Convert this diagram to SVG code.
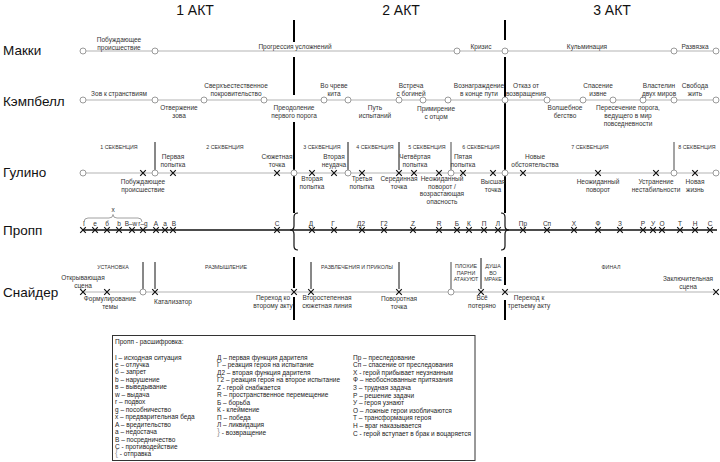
<svg xmlns="http://www.w3.org/2000/svg" width="720" height="462" viewBox="0 0 720 462">
<style>
text{font-family:"Liberation Sans",Arial,sans-serif;fill:#333}
.h{font-size:14px;fill:#111;text-anchor:middle}
.r{font-size:13.5px;fill:#111}
.l{font-size:6.5px;text-anchor:middle}
.s{font-size:5.3px;text-anchor:middle}
.g{font-size:6.5px;fill:#222}
.tl{stroke:#b4b4b4;stroke-width:1.2;fill:none}
.pl{stroke:#111;stroke-width:1.4;fill:none}
.act{stroke:#000;stroke-width:2;fill:none}
.dv{stroke:#111;stroke-width:1;fill:none}
.gd{stroke:#9a9a9a;stroke-width:1.8;fill:none}
.c{fill:#fff;stroke:#9a9a9a;stroke-width:1}
.br{stroke:#111;stroke-width:1.2;fill:none}
.brg{stroke:#888;stroke-width:0.8;fill:none}
.lb{font-size:9px;fill:#999}
</style>
<defs>
<path id="xm" d="M-2.8,-2.8L2.8,2.8M2.8,-2.8L-2.8,2.8" stroke="#111" stroke-width="1.2" fill="none"/>
</defs>
<rect width="720" height="462" fill="#fff"/>

<g id="headers">
<text class="h" x="195" y="15">1 АКТ</text>
<text class="h" x="401" y="15">2 АКТ</text>
<text class="h" x="612" y="15">3 АКТ</text>
<text class="r" x="3" y="55">Макки</text>
<text class="r" x="3" y="106">Кэмпбелл</text>
<text class="r" x="3" y="177">Гулино</text>
<text class="r" x="3" y="235">Пропп</text>
<text class="r" x="3" y="297">Снайдер</text>
</g>

<g id="connectors">
<line class="tl" x1="83" y1="51" x2="716" y2="51"/>
<line class="tl" x1="83" y1="100" x2="716" y2="100"/>
<line class="tl" x1="83" y1="173" x2="716" y2="173"/>
<line class="pl" x1="83" y1="230" x2="717" y2="230"/>
<line class="tl" x1="83" y1="292" x2="716" y2="292"/>
<path class="act" d="M294,20V42M294,57V95M294,122V170M294,176V213M294,257V288M294,297V320"/>
<path class="act" d="M505,20V40M505,57V97M505,103V170M505,176V213M505,257V285M505,300V320"/>
<path class="br" d="M298,213Q294,213 294,217V226Q294,230 290,230Q294,230 294,234V246Q294,250 298,250"/>
<path class="br" d="M501,213Q505,213 505,217V226Q505,230 509,230Q505,230 505,234V246Q505,250 501,250"/>
<path class="dv" d="M155,142V170M348,142V170M399,142V170"/>
<path class="gd" d="M451,142V170M674,142V170"/>
<path class="dv" d="M143,262V289M155,262V289M311,262V289M399,262V289M481,258V289"/>
<path class="gd" d="M451,262V289"/>
<path class="brg" d="M84,222Q84,218 88,218H109Q113,218 113,214.5Q113,218 117,218H138Q142,218 142,222"/>
</g>

<g id="makki">
<g id="mk-a"><circle class="c" cx="83" cy="51" r="3"/><text class="l" x="119" y="42">Побуждающее<tspan x="119" dy="7.5">происшествие</tspan></text></g>
<g id="mk-b"><circle class="c" cx="155" cy="51" r="3"/><text class="l" x="295" y="49">Прогрессия  усложнений</text></g>
<g id="mk-c"><circle class="c" cx="457" cy="51" r="3"/><text class="l" x="481" y="49">Кризис</text></g>
<g id="mk-d"><circle class="c" cx="505" cy="51" r="3"/><text class="l" x="587" y="49">Кульминация</text></g>
<g id="mk-e"><circle class="c" cx="674" cy="51" r="3"/><text class="l" x="695" y="49">Развязка</text></g>
<g id="mk-f"><circle class="c" cx="716" cy="51" r="3"/></g>
</g>

<g id="campbell">
<g id="cb-1"><circle class="c" cx="83" cy="100" r="3"/><text class="l" x="119" y="95.5">Зов к странствиям</text></g>
<g id="cb-2"><circle class="c" cx="155" cy="100" r="3"/><text class="l" x="179" y="110">Отвержение<tspan x="179" dy="7.8">зова</tspan></text></g>
<g id="cb-3"><circle class="c" cx="204" cy="100" r="3"/><text class="l" x="236" y="88">Сверхъестественное<tspan x="236" dy="7.8">покровительство</tspan></text></g>
<g id="cb-4"><circle class="c" cx="264" cy="100" r="3"/><text class="l" x="294" y="110">Преодоление<tspan x="294" dy="7.8">первого порога</tspan></text></g>
<g id="cb-5"><circle class="c" cx="324" cy="100" r="3"/><text class="l" x="334" y="88">Во чреве<tspan x="334" dy="7.8">кита</tspan></text></g>
<g id="cb-6"><circle class="c" cx="348" cy="100" r="3"/><text class="l" x="375" y="110">Путь<tspan x="375" dy="7.8">испытаний</tspan></text></g>
<g id="cb-7"><circle class="c" cx="399" cy="100" r="3"/><text class="l" x="411" y="88">Встреча<tspan x="411" dy="7.8">с богиней</tspan></text></g>
<g id="cb-8"><circle class="c" cx="423" cy="100" r="3"/><text class="l" x="436" y="111">Примирение<tspan x="436" dy="7.8">с отцом</tspan></text></g>
<g id="cb-9"><circle class="c" cx="448" cy="100" r="3"/><text class="l" x="479" y="88">Вознаграждение<tspan x="479" dy="7.8">в конце пути</tspan></text></g>
<g id="cb-10"><circle class="c" cx="505" cy="100" r="3"/><text class="l" x="526" y="88">Отказ от<tspan x="526" dy="7.8">возвращения</tspan></text></g>
<g id="cb-11"><circle class="c" cx="547" cy="100" r="3"/><text class="l" x="565" y="110">Волшебное<tspan x="565" dy="7.8">бегство</tspan></text></g>
<g id="cb-12"><circle class="c" cx="583" cy="100" r="3"/><text class="l" x="598" y="88">Спасение<tspan x="598" dy="7.8">извне</tspan></text></g>
<g id="cb-13"><circle class="c" cx="613" cy="100" r="3"/><text class="l" x="628" y="110">Пересечение порога,<tspan x="628" dy="7.8">ведущего в мир</tspan><tspan x="628" dy="7.8">повседневности</tspan></text></g>
<g id="cb-14"><circle class="c" cx="643" cy="100" r="3"/><text class="l" x="659" y="88">Властелин<tspan x="659" dy="7.8">двух миров</tspan></text></g>
<g id="cb-15"><circle class="c" cx="674" cy="100" r="3"/><text class="l" x="695" y="88">Свобода<tspan x="695" dy="7.8">жить</tspan></text></g>
<g id="cb-16"><circle class="c" cx="716" cy="100" r="3"/></g>
</g>

<g id="gulino">
<g id="gu-seq">
<text class="s" x="119" y="149">1 СЕКВЕНЦИЯ</text>
<text class="s" x="225" y="149">2 СЕКВЕНЦИЯ</text>
<text class="s" x="322" y="149">3 СЕКВЕНЦИЯ</text>
<text class="s" x="375" y="149">4 СЕКВЕНЦИЯ</text>
<text class="s" x="427" y="149">5 СЕКВЕНЦИЯ</text>
<text class="s" x="481" y="149">6 СЕКВЕНЦИЯ</text>
<text class="s" x="590" y="149">7 СЕКВЕНЦИЯ</text>
<text class="s" x="697" y="149">8 СЕКВЕНЦИЯ</text>
</g>
<g id="gu-c1"><circle class="c" cx="83" cy="173" r="3"/></g>
<g id="gu-x1"><use href="#xm" x="143" y="173"/><text class="l" x="143" y="184">Побуждающее<tspan x="143" dy="7.8">происшествие</tspan></text></g>
<g id="gu-c2"><circle class="c" cx="155" cy="173" r="3"/></g>
<g id="gu-x2"><use href="#xm" x="173" y="173"/><text class="l" x="173" y="159">Первая<tspan x="173" dy="7.5">попытка</tspan></text></g>
<g id="gu-x3"><use href="#xm" x="277" y="173"/><text class="l" x="277" y="159">Сюжетная<tspan x="277" dy="7.5">точка</tspan></text></g>
<g id="gu-c3"><circle class="c" cx="294" cy="173" r="3"/></g>
<g id="gu-x4"><use href="#xm" x="312" y="173"/><text class="l" x="312" y="181">Вторая<tspan x="312" dy="7.8">попытка</tspan></text></g>
<g id="gu-x5"><use href="#xm" x="334" y="173"/><text class="l" x="334" y="159">Вторая<tspan x="334" dy="7.5">неудача</tspan></text></g>
<g id="gu-c4"><circle class="c" cx="348" cy="173" r="3"/></g>
<g id="gu-x6"><use href="#xm" x="362" y="173"/><text class="l" x="362" y="181">Третья<tspan x="362" dy="7.8">попытка</tspan></text></g>
<g id="gu-x7"><use href="#xm" x="399" y="173"/><text class="l" x="399" y="181">Серединная<tspan x="399" dy="7.8">точка</tspan></text></g>
<g id="gu-x8"><use href="#xm" x="414" y="173"/><text class="l" x="415" y="159">Четвёртая<tspan x="415" dy="7.5">попытка</tspan></text></g>
<g id="gu-x9"><use href="#xm" x="439" y="173"/><text class="l" x="442" y="181">Неожиданный<tspan x="442" dy="7.7">поворот /</tspan><tspan x="442" dy="7.7">возрастающая</tspan><tspan x="442" dy="7.7">опасность</tspan></text></g>
<g id="gu-c5"><circle class="c" cx="451" cy="173" r="3"/></g>
<g id="gu-x10"><use href="#xm" x="463" y="173"/><text class="l" x="463" y="159">Пятая<tspan x="463" dy="7.5">попытка</tspan></text></g>
<g id="gu-x11"><use href="#xm" x="493" y="173"/><text class="l" x="493" y="184">Высшая<tspan x="493" dy="7.8">точка</tspan></text></g>
<g id="gu-c6"><circle class="c" cx="505" cy="173" r="3"/></g>
<g id="gu-x12"><use href="#xm" x="523" y="173"/><text class="l" x="535" y="159">Новые<tspan x="535" dy="7.5">обстоятельства</tspan></text></g>
<g id="gu-x13"><use href="#xm" x="598" y="173"/><text class="l" x="598" y="184">Неожиданный<tspan x="598" dy="7.8">поворот</tspan></text></g>
<g id="gu-x14"><use href="#xm" x="656" y="173"/><text class="l" x="656" y="184">Устранение<tspan x="656" dy="7.8">нестабильности</tspan></text></g>
<g id="gu-c7"><circle class="c" cx="674" cy="173" r="3"/></g>
<g id="gu-x15"><use href="#xm" x="695" y="173"/><text class="l" x="695" y="184">Новая<tspan x="695" dy="7.8">жизнь</tspan></text></g>
<g id="gu-c8"><circle class="c" cx="716" cy="173" r="3"/></g>
</g>

<g id="propp">
<text class="l" x="113" y="212">x</text>
<g id="pr-I"><use href="#xm" x="83" y="230"/><text class="l" x="84" y="226">I</text></g>
<g id="pr-e"><use href="#xm" x="95" y="230"/><text class="l" x="95" y="226">e</text></g>
<g id="pr-b1"><use href="#xm" x="107" y="230"/><text class="l" x="107" y="226">б</text></g>
<g id="pr-b2"><use href="#xm" x="119" y="230"/><text class="l" x="119" y="226">b</text></g>
<g id="pr-Bw"><use href="#xm" x="132" y="230"/><text class="l" x="131" y="226">B–w</text></g>
<g id="pr-rg"><use href="#xm" x="143" y="230"/><text class="l" x="143" y="226">r–g</text></g>
<g id="pr-A"><use href="#xm" x="156" y="230"/><text class="l" x="156" y="226">A</text></g>
<g id="pr-a"><use href="#xm" x="165" y="230"/><text class="l" x="165" y="226">a</text></g>
<g id="pr-B"><use href="#xm" x="173" y="230"/><text class="l" x="174" y="226">B</text></g>
<g id="pr-C"><use href="#xm" x="277" y="230"/><text class="l" x="277" y="226">С</text></g>
<g id="pr-D"><use href="#xm" x="312" y="230"/><text class="l" x="311" y="226">Д</text></g>
<g id="pr-G"><use href="#xm" x="334" y="230"/><text class="l" x="333" y="226">Г</text></g>
<g id="pr-D2"><use href="#xm" x="362" y="230"/><text class="l" x="361" y="226">Д2</text></g>
<g id="pr-G2"><use href="#xm" x="384" y="230"/><text class="l" x="384" y="226">Г2</text></g>
<g id="pr-Z"><use href="#xm" x="413" y="230"/><text class="l" x="413" y="226">Z</text></g>
<g id="pr-R"><use href="#xm" x="439" y="230"/><text class="l" x="439" y="226">R</text></g>
<g id="pr-Bb"><use href="#xm" x="457" y="230"/><text class="l" x="457" y="226">Б</text></g>
<g id="pr-K"><use href="#xm" x="469" y="230"/><text class="l" x="469" y="226">К</text></g>
<g id="pr-P"><use href="#xm" x="484" y="230"/><text class="l" x="484" y="226">П</text></g>
<g id="pr-L"><use href="#xm" x="498" y="230"/><text class="l" x="498" y="226">Л</text></g>
<g id="pr-Pr"><use href="#xm" x="523" y="230"/><text class="l" x="523" y="226">Пр</text></g>
<g id="pr-Sp"><use href="#xm" x="547" y="230"/><text class="l" x="547" y="226">Сп</text></g>
<g id="pr-X"><use href="#xm" x="574" y="230"/><text class="l" x="574" y="226">Х</text></g>
<g id="pr-F"><use href="#xm" x="598" y="230"/><text class="l" x="598" y="226">Ф</text></g>
<g id="pr-Z3"><use href="#xm" x="620" y="230"/><text class="l" x="620" y="226">З</text></g>
<g id="pr-Rr"><use href="#xm" x="643" y="230"/><text class="l" x="643" y="226">Р</text></g>
<g id="pr-U"><use href="#xm" x="653" y="230"/><text class="l" x="653" y="226">У</text></g>
<g id="pr-O"><use href="#xm" x="662" y="230"/><text class="l" x="662" y="226">О</text></g>
<g id="pr-T"><use href="#xm" x="680" y="230"/><text class="l" x="680" y="226">Т</text></g>
<g id="pr-N"><use href="#xm" x="695" y="230"/><text class="l" x="695" y="226">Н</text></g>
<g id="pr-S"><use href="#xm" x="710" y="230"/><text class="l" x="710" y="226">С</text></g>
</g>

<g id="snyder">
<g id="sn-sec">
<text class="s" x="113" y="269">УСТАНОВКА</text>
<text class="s" x="226" y="269">РАЗМЫШЛЕНИЕ</text>
<text class="s" x="357" y="269">РАЗВЛЕЧЕНИЯ И ПРИКОЛЫ</text>
<text class="s" x="466" y="268">ПЛОХИЕ<tspan x="466" dy="6.5">ПАРНИ</tspan><tspan x="466" dy="6.5">АТАКУЮТ</tspan></text>
<text class="s" x="493" y="268">ДУША<tspan x="493" dy="6.5">ВО</tspan><tspan x="493" dy="6.5">МРАКЕ</tspan></text>
<text class="s" x="611" y="269">ФИНАЛ</text>
</g>
<g id="sn-1"><use href="#xm" x="83" y="292"/><text class="l" x="83" y="280">Открывающая<tspan x="83" dy="7.6">сцена</tspan></text></g>
<g id="sn-2"><use href="#xm" x="107" y="292"/><text class="l" x="110" y="301">Формулирование<tspan x="110" dy="7.8">темы</tspan></text></g>
<g id="sn-c1"><circle class="c" cx="143" cy="292" r="3"/></g>
<g id="sn-3"><use href="#xm" x="155" y="292"/><text class="l" x="173" y="304">Катализатор</text></g>
<g id="sn-4"><use href="#xm" x="294" y="292"/><text class="l" x="273" y="300">Переход ко<tspan x="273" dy="7.8">второму акту</tspan></text></g>
<g id="sn-5"><use href="#xm" x="311" y="292"/><text class="l" x="327" y="300">Второстепенная<tspan x="327" dy="7.8">сюжетная линия</tspan></text></g>
<g id="sn-6"><use href="#xm" x="399" y="292"/><text class="l" x="399" y="301">Поворотная<tspan x="399" dy="7.8">точка</tspan></text></g>
<g id="sn-c2"><circle class="c" cx="451" cy="292" r="3"/></g>
<g id="sn-7"><use href="#xm" x="481" y="292"/><text class="l" x="482" y="300">Всё<tspan x="482" dy="7.8">потеряно</tspan></text></g>
<g id="sn-8"><use href="#xm" x="505" y="292"/><text class="l" x="529" y="300">Переход к<tspan x="529" dy="7.8">третьему акту</tspan></text></g>
<g id="sn-9"><use href="#xm" x="716" y="292"/><text class="l" x="688" y="281">Заключительная<tspan x="688" dy="7.8">сцена</tspan></text></g>
</g>

<g id="legend">
<rect x="112.5" y="335.5" width="362.5" height="125" fill="#fff" stroke="#333" stroke-width="1"/>
<text class="g" x="115" y="344">Пропп - расшифровка:</text>
<text class="g" x="115" y="359.5">I – исходная ситуация<tspan x="115" dy="7.46">e – отлучка</tspan><tspan x="115" dy="7.46">б – запрет</tspan><tspan x="115" dy="7.46">b – нарушение</tspan><tspan x="115" dy="7.46">в – выведывание</tspan><tspan x="115" dy="7.46">w – выдача</tspan><tspan x="115" dy="7.46">r – подвох</tspan><tspan x="115" dy="7.46">g – пособничество</tspan><tspan x="115" dy="7.46">x – предварительная беда</tspan><tspan x="115" dy="7.46">A – вредительство</tspan><tspan x="115" dy="7.46">a – недостача</tspan><tspan x="115" dy="7.46">B – посредничество</tspan><tspan x="115" dy="7.46">C - противодействие</tspan><tspan x="115" dy="7.46" class="lb">{</tspan> - отправка</text>
<text class="g" x="217" y="359.5">Д – первая функция дарителя<tspan x="217" dy="7.5">Г – реакция героя на испытание</tspan><tspan x="217" dy="7.5">Д2 – вторая функция дарителя</tspan><tspan x="217" dy="7.5">Г2 – реакция героя на второе испытание</tspan><tspan x="217" dy="7.5">Z - герой снабжается</tspan><tspan x="217" dy="7.5">R – пространственное перемещение</tspan><tspan x="217" dy="7.5">Б – борьба</tspan><tspan x="217" dy="7.5">К - клеймение</tspan><tspan x="217" dy="7.5">П – победа</tspan><tspan x="217" dy="7.5">Л – ликвидация</tspan><tspan x="217" dy="7.5" class="lb">}</tspan> - возвращение</text>
<text class="g" x="353" y="359.5">Пр – преследование<tspan x="353" dy="7.6">Сп – спасение от преследования</tspan><tspan x="353" dy="7.6">Х - герой прибывает неузнанным</tspan><tspan x="353" dy="7.6">Ф – необоснованные притязания</tspan><tspan x="353" dy="7.6">З – трудная задача</tspan><tspan x="353" dy="7.6">Р – решение задачи</tspan><tspan x="353" dy="7.6">У – героя узнают</tspan><tspan x="353" dy="7.6">О – ложные герои изобличаются</tspan><tspan x="353" dy="7.6">Т – трансформация героя</tspan><tspan x="353" dy="7.6">Н – враг наказывается</tspan><tspan x="353" dy="7.6">С - герой вступает в брак и воцаряется</tspan></text>
</g>
</svg>
